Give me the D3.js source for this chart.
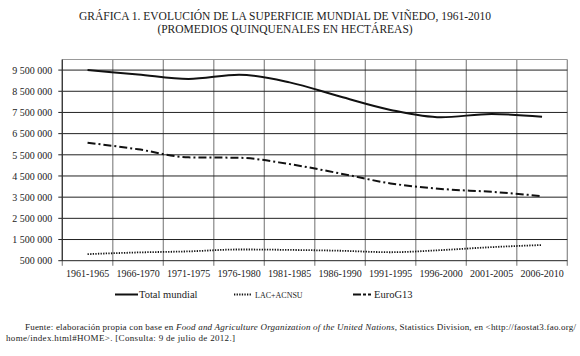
<!DOCTYPE html>
<html><head><meta charset="utf-8">
<script src="https://cdn.jsdelivr.net/npm/d3@7"></script>
<style>
html,body{margin:0;padding:0;background:#fff;}
svg{display:block;}
</style></head>
<body>
<svg id="c" width="580" height="356" font-family="'Liberation Serif', 'Times New Roman', 'DejaVu Serif', serif"></svg>
<script>
const categories = ["1961-1965","1966-1970","1971-1975","1976-1980","1981-1985","1986-1990","1991-1995","1996-2000","2001-2005","2006-2010"];
const totalMundial = [9500000,9290000,9080000,9280000,8920000,8250000,7620000,7270000,7430000,7300000];
const lacAcnsu = [810000,890000,940000,1030000,1010000,970000,900000,1000000,1140000,1240000];
const euroG13 = [6070000,5760000,5380000,5360000,5060000,4620000,4150000,3890000,3750000,3550000];
const yTicks = [500000,1500000,2500000,3500000,4500000,5500000,6500000,7500000,8500000,9500000];
const yTickLabels = ["500 000","1 500 000","2 500 000","3 500 000","4 500 000","5 500 000","6 500 000","7 500 000","8 500 000","9 500 000"];
const seriesNames = ["Total mundial","LAC+ACNSU","EuroG13"];

const FONT = "'Liberation Serif', 'Times New Roman', 'DejaVu Serif', serif";
const svg = d3.select("#c");
const L = 62.3, R = 567.3, T = 59.5, B = 260.7;
const x = d3.scaleBand().domain(categories).range([L, R]).padding(0);
const y = d3.scaleLinear().domain([500000, 10000000]).range([B, T]);

// title
const title = svg.append("g").attr("font-size", 11.5).attr("text-anchor", "middle").attr("fill", "#222").attr("font-family", FONT);
title.append("text").attr("x", 285).attr("y", 20).attr("textLength", 412).attr("lengthAdjust", "spacingAndGlyphs").text("GRÁFICA 1. EVOLUCIÓN DE LA SUPERFICIE MUNDIAL DE VIÑEDO, 1961-2010");
title.append("text").attr("x", 285).attr("y", 33).text("(PROMEDIOS QUINQUENALES EN HECTÁREAS)");

// vertical grid at band boundaries
const bounds = categories.map(c => x(c)).concat([R]);
svg.append("g").selectAll("line").data(bounds).join("line")
  .attr("x1", d => d).attr("x2", d => d).attr("y1", T).attr("y2", B + 5)
  .attr("stroke", "#888").attr("stroke-width", 1.2);
// top border
svg.append("line").attr("x1", L).attr("x2", R).attr("y1", T).attr("y2", T).attr("stroke", "#999").attr("stroke-width", 1.2);

// horizontal grid
svg.append("g").selectAll("line").data(yTicks).join("line")
  .attr("x1", L - 4).attr("x2", R).attr("y1", d => y(d)).attr("y2", d => y(d))
  .attr("stroke", "#222").attr("stroke-width", 1);

// left axis line
svg.append("line").attr("x1", L).attr("x2", L).attr("y1", T).attr("y2", B).attr("stroke", "#333").attr("stroke-width", 1.2);

// y axis labels
const yAxis = d3.axisLeft(y).tickValues(yTicks).tickFormat((d, i) => yTickLabels[i]).tickSize(0).tickPadding(10);
const gy = svg.append("g").attr("transform", `translate(${L},0)`).call(yAxis).attr("font-family", FONT).attr("font-size", 10);
gy.select(".domain").remove();
gy.selectAll("text").attr("fill", "#222");

// x axis labels
const xAxis = d3.axisBottom(x).tickSize(0).tickPadding(9);
const gx = svg.append("g").attr("transform", `translate(0,${B})`).call(xAxis).attr("font-family", FONT).attr("font-size", 10);
gx.select(".domain").remove();
gx.selectAll("text").attr("fill", "#222");

// lines
const line = d3.line().x((d, i) => x(categories[i]) + x.bandwidth() / 2).y(d => y(d)).curve(d3.curveMonotoneX);
svg.append("path").datum(totalMundial).attr("d", line).attr("fill", "none").attr("stroke", "#111").attr("stroke-width", 2);
svg.append("path").datum(lacAcnsu).attr("d", line).attr("fill", "none").attr("stroke", "#111").attr("stroke-width", 1.8).attr("stroke-dasharray", "1.3,1.3");
svg.append("path").datum(euroG13).attr("d", line).attr("fill", "none").attr("stroke", "#111").attr("stroke-width", 2).attr("stroke-dasharray", "8,3,2,3");

// legend
const lg = svg.append("g").attr("fill", "#222").attr("font-family", FONT);
const ly = 294.5;
lg.append("line").attr("x1", 115).attr("x2", 138).attr("y1", ly).attr("y2", ly).attr("stroke", "#111").attr("stroke-width", 2);
lg.append("text").attr("x", 139).attr("y", ly + 3.5).attr("font-size", 10.5).text(seriesNames[0]);
lg.append("line").attr("x1", 234).attr("x2", 252).attr("y1", ly).attr("y2", ly).attr("stroke", "#111").attr("stroke-width", 1.8).attr("stroke-dasharray", "1.3,1.3");
lg.append("text").attr("x", 255).attr("y", ly + 3.5).attr("font-size", 8).text(seriesNames[1]);
lg.append("line").attr("x1", 353).attr("x2", 371).attr("y1", ly).attr("y2", ly).attr("stroke", "#111").attr("stroke-width", 2).attr("stroke-dasharray", "8,2,3,2,5,0");
lg.append("text").attr("x", 374).attr("y", ly + 3.5).attr("font-size", 10.5).text(seriesNames[2]);

// footnote
const fn = svg.append("g").attr("font-size", 9).attr("fill", "#222").attr("font-family", FONT);
const t1 = fn.append("text").attr("x", 25).attr("y", 330).attr("textLength", 551).attr("lengthAdjust", "spacing");
t1.append("tspan").text("Fuente: elaboración propia con base en ");
t1.append("tspan").attr("font-style", "italic").text("Food and Agriculture Organization of the United Nations");
t1.append("tspan").text(", Statistics Division, en <http://faostat3.fao.org/");
fn.append("text").attr("x", 6).attr("y", 341).attr("textLength", 229).attr("lengthAdjust", "spacing").text("home/index.html#HOME>. [Consulta: 9 de julio de 2012.]");
</script>
</body></html>
